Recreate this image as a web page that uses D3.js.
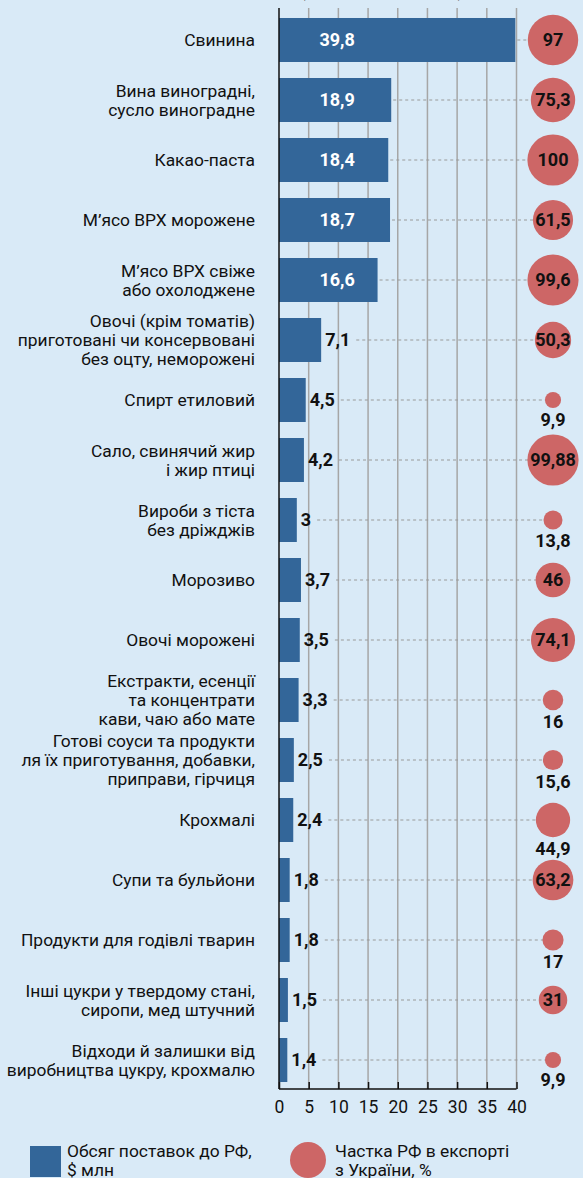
<!DOCTYPE html>
<html><head><meta charset="utf-8">
<script src="https://cdn.jsdelivr.net/npm/d3@7"></script>
<style>
html,body{margin:0;padding:0;background:#d9eaf7;}
svg{display:block;font-family:Roboto, "Noto Sans", sans-serif;}
</style></head>
<body>
<svg id="chart" width="583" height="1178"></svg>
<script>
const categories = [
  "Свинина",
  "Вина виноградні,|сусло виноградне",
  "Какао-паста",
  "М’ясо ВРХ морожене",
  "М’ясо ВРХ свіже|або охолоджене",
  "Овочі (крім томатів)|приготовані чи консервовані|без оцту, неморожені",
  "Спирт етиловий",
  "Сало, свинячий жир|і жир птиці",
  "Вироби з тіста|без дріжджів",
  "Морозиво",
  "Овочі морожені",
  "Екстракти, есенції|та концентрати|кави, чаю або мате",
  "Готові соуси та продукти|ля їх приготування, добавки,|приправи, гірчиця",
  "Крохмалі",
  "Супи та бульйони",
  "Продукти для годівлі тварин",
  "Інші цукри у твердому стані,|сиропи, мед штучний",
  "Відходи й залишки від|виробництва цукру, крохмалю"
];
const volumes = [39.8, 18.9, 18.4, 18.7, 16.6, 7.1, 4.5, 4.2, 3, 3.7, 3.5, 3.3, 2.5, 2.4, 1.8, 1.8, 1.5, 1.4];
const shares = [97, 75.3, 100, 61.5, 99.6, 50.3, 9.9, 99.88, 13.8, 46, 74.1, 16, 15.6, 44.9, 63.2, 17, 31, 9.9];
const xTicks = [0, 5, 10, 15, 20, 25, 30, 35, 40];
const legendLabels = ["Обсяг поставок до РФ,|$ млн", "Частка РФ в експорті|з України, %"];
const titleText = "Експорт з України до РФ у 2021 році (за групами товарів)";

const fmt = v => String(v).replace(".", ",");
const BAR = "#336699", DOT = "#cd6666", INK = "#111";

const svg = d3.select("#chart");
const x = d3.scaleLinear().domain([0, 40]).range([279, 516.5]);
const y = d3.scaleBand().domain(d3.range(categories.length)).range([10, 1090]).paddingInner(0.2667).paddingOuter(0.1333);
const r = d3.scaleSqrt().domain([0, 100]).range([0, 25.6]);
const cx = 553;
const yTop = 8, yBottom = 1089;
const insideBar = i => volumes[i] >= 10;
const shareBelow = i => shares[i] < 45 && shares[i] !== 31;

// cut-off title
svg.append("text").attr("x", 8).attr("y", -3.5).attr("font-size", 17).attr("fill", INK).text(titleText);

// grid
svg.append("g").selectAll("line").data(xTicks.slice(1)).join("line")
  .attr("x1", d => x(d)).attr("x2", d => x(d)).attr("y1", yTop).attr("y2", yBottom)
  .attr("stroke", "#a6a6a6").attr("stroke-width", 1.5);

// axis
const axis = svg.append("g").attr("transform", `translate(0,${yBottom})`)
  .call(d3.axisBottom(x).tickValues(xTicks).tickSize(-7).tickPadding(11).tickFormat(d => d));
axis.select(".domain").attr("stroke", INK).attr("stroke-width", 1.5).attr("d", `M${x(0)},0H${x(40)}`);
axis.selectAll(".tick line").attr("stroke", INK).attr("stroke-width", 1.5);
axis.selectAll(".tick text").attr("font-size", 17.5).attr("fill", INK).attr("font-family", "Roboto").attr("dy", "0.72em");

// rows
const rows = svg.append("g").selectAll("g").data(categories).join("g");
const cy = i => y(i) + y.bandwidth() / 2;

// bars
rows.append("rect").attr("x", x(0)).attr("y", (d, i) => y(i))
  .attr("width", (d, i) => x(volumes[i]) - x(0)).attr("height", y.bandwidth()).attr("fill", BAR);

// bar labels
rows.append("text").attr("class", "bl")
  .attr("x", (d, i) => insideBar(i) ? x(9.8) : x(volumes[i]) + 4)
  .attr("y", (d, i) => cy(i)).attr("dy", "0.36em")
  .attr("text-anchor", (d, i) => insideBar(i) ? "middle" : "start")
  .attr("font-size", 18).attr("font-weight", 700)
  .attr("fill", (d, i) => insideBar(i) ? "#fff" : INK)
  .text((d, i) => fmt(volumes[i]));

// dashed leaders
rows.each(function (d, i) {
  const g = d3.select(this);
  const t = g.select("text.bl").node();
  const start = insideBar(i) ? x(volumes[i]) + 2 : x(volumes[i]) + 4 + t.getComputedTextLength() + 6;
  g.insert("line", "rect").attr("x1", start).attr("x2", cx).attr("y1", cy(i)).attr("y2", cy(i))
    .attr("stroke", "#999").attr("stroke-width", 1.2).attr("stroke-dasharray", "3,3");
});

// axis line on left
svg.append("line").attr("x1", x(0)).attr("x2", x(0)).attr("y1", yTop).attr("y2", yBottom)
  .attr("stroke", INK).attr("stroke-width", 1.5);

// circles
rows.append("circle").attr("cx", cx).attr("cy", (d, i) => cy(i)).attr("r", (d, i) => r(shares[i])).attr("fill", DOT);
rows.append("text").attr("x", cx)
  .attr("y", (d, i) => shareBelow(i) ? cy(i) + r(shares[i]) + 11 : cy(i))
  .attr("dy", "0.36em").attr("text-anchor", "middle")
  .attr("font-size", 18).attr("font-weight", 700).attr("fill", INK)
  .text((d, i) => fmt(shares[i]));

// category labels
rows.append("text").attr("font-size", 17.4).attr("fill", INK).attr("text-anchor", "end")
  .each(function (d, i) {
    const lines = d.split("|");
    const lh = 19;
    const t = d3.select(this);
    lines.forEach((ln, k) => {
      t.append("tspan").attr("x", 255).attr("y", cy(i) + (k - (lines.length - 1) / 2) * lh).attr("dy", "0.36em").text(ln);
    });
  });

// legend
const lg = svg.append("g");
lg.append("rect").attr("x", 30).attr("y", 1146).attr("width", 31).attr("height", 31).attr("fill", BAR);
lg.append("circle").attr("cx", 308).attr("cy", 1160).attr("r", 18).attr("fill", DOT);
legendLabels.forEach((lbl, j) => {
  const t = lg.append("text").attr("font-size", 17.4).attr("fill", INK);
  lbl.split("|").forEach((ln, k) => {
    t.append("tspan").attr("x", j === 0 ? 67 : 335).attr("y", 1151 + k * 19).attr("dy", "0.36em").text(ln);
  });
});
</script>
</body></html>
